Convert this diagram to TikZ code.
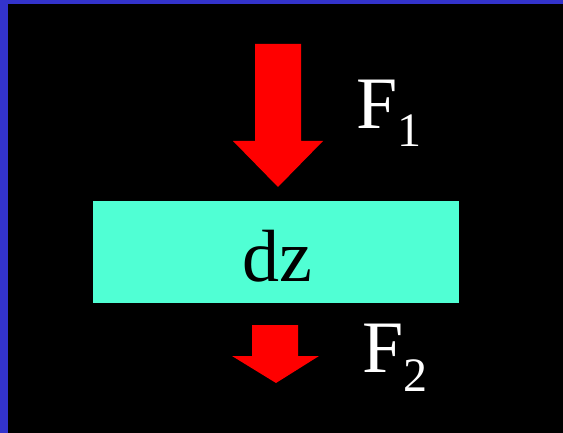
\documentclass[tikz,border=0pt]{standalone}
\usepackage{fontspec}
\setmainfont{Liberation Serif}
\definecolor{edgeblue}{RGB}{51,51,204}
\definecolor{slab}{RGB}{80,255,212}
\definecolor{forcered}{RGB}{255,0,0}
\tikzset{
  lbl/.style={text=white, inner sep=0pt, anchor=base west, font=\fontsize{74}{74}\selectfont},
  forcearrow/.style={fill=forcered, draw=none}
}
\begin{document}
\begin{tikzpicture}[x=1pt,y=-1pt]
\fill[black] (0,0) rectangle (563,433);
\useasboundingbox (0,0) rectangle (563,433);
\fill[edgeblue] (0,0) rectangle (7.5,433);
\fill[edgeblue] (0,0) rectangle (563,3.7);
% slab
\node[fill=slab, inner sep=0pt, minimum width=366pt, minimum height=102pt, anchor=north west] (slab) at (93,201) {};
\node[inner sep=0pt, anchor=base, font=\fontsize{74}{74}\selectfont, text=black] (dz) at (277,282) {dz};
% arrow F1
\fill[forcearrow] (255,44) -- (301,44) -- (301,141) -- (323,141) -- (278,187) -- (233,141) -- (255,141) -- cycle;
% arrow F2
\fill[forcearrow] (252,325) -- (298,325) -- (298,356) -- (319,356) -- (276,383) -- (232,356) -- (252,356) -- cycle;
% labels
\node[lbl] (F1) at (356,129) {F\raisebox{-18pt}{\fontsize{48}{48}\selectfont 1}};
\node[lbl] (F2) at (362,372) {F\raisebox{-19pt}{\fontsize{48}{48}\selectfont 2}};
\end{tikzpicture}
\end{document}
